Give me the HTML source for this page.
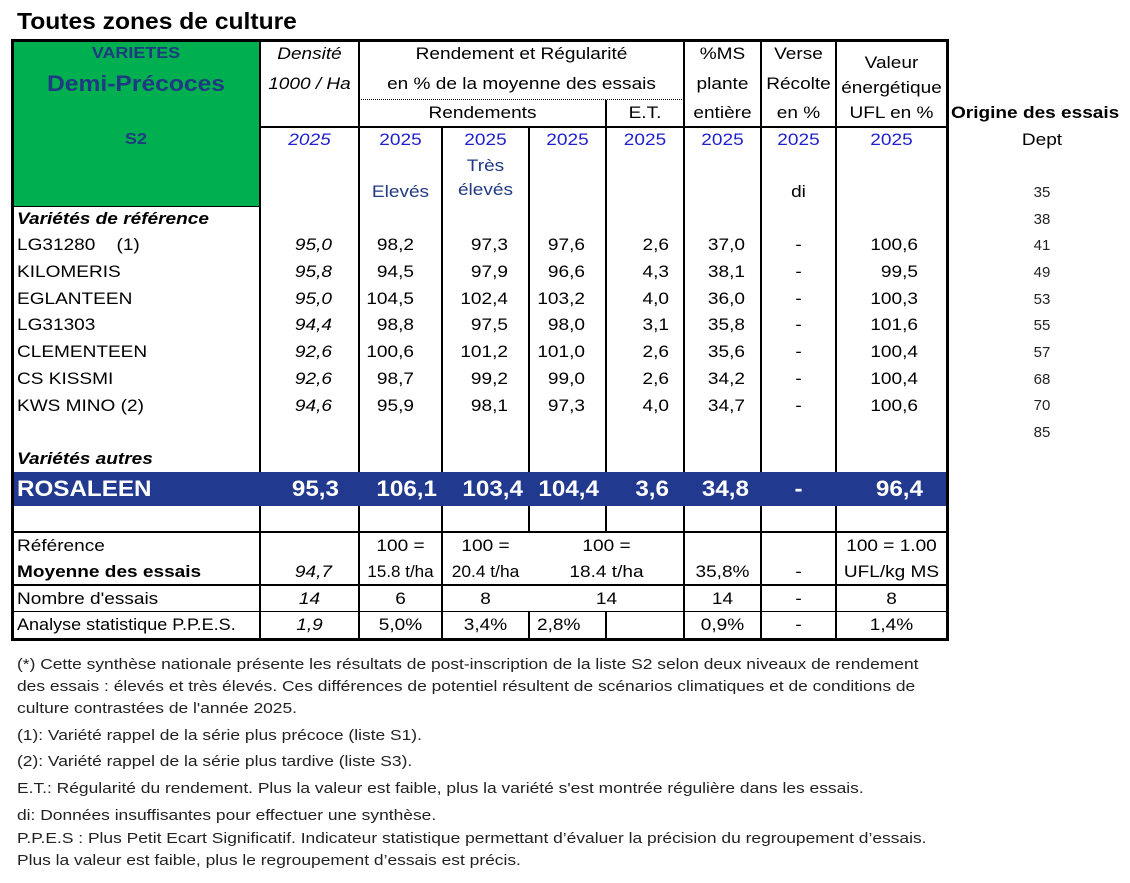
<!DOCTYPE html>
<html><head><meta charset="utf-8"><style>
body{margin:0;width:1130px;height:883px;background:#fff;position:relative;font-family:"Liberation Sans",Arial,sans-serif;overflow:hidden}
div{position:absolute;white-space:nowrap}
.t{font-size:17px;color:#000;line-height:20px;transform:scaleX(1.12);transform-origin:left center}
.c{text-align:center;transform-origin:center center}
.r{text-align:right;transform-origin:right center}
.i{font-style:italic}
.b{font-weight:bold}
.bl{color:#1f1fcc}
.nv{color:#1f3a80}
.h{background:#000;height:1px}
.v{background:#000;width:1px}
.fn{font-size:15px;color:#222;left:17px;line-height:18px;transform:scaleX(1.16);transform-origin:left center}
.dp{font-size:15px;color:#222;left:1020px;width:44px;text-align:center}
.w{color:#fff;font-weight:bold;font-size:22px;line-height:24px;top:477px;transform:scaleX(1.1);transform-origin:left center}
.w.r{transform-origin:right center}
.w.c{transform-origin:center center}
.d1{left:260px;width:72px;font-style:italic;text-align:right;transform-origin:right center}
.d2{left:359px;width:55px;text-align:right;transform-origin:right center}
.d3{left:442px;width:66px;text-align:right;transform-origin:right center}
.d4{left:529px;width:56px;text-align:right;transform-origin:right center}
.d5{left:606px;width:63px;text-align:right;transform-origin:right center}
.d6{left:684px;width:61px;text-align:right;transform-origin:right center}
.d7{left:761px;width:75px;text-align:center;transform-origin:center center}
.d8{left:836px;width:82px;text-align:right;transform-origin:right center}
</style></head><body>
<div class="b" style="left:17px;top:8px;font-size:23px;transform:scaleX(1.07);transform-origin:left center">Toutes zones de culture</div>

<div style="left:12px;top:40px;width:248px;height:166px;background:#00b050"></div>
<div style="left:12px;top:472px;width:935px;height:34px;background:#21398f"></div>
<div style="left:11px;top:39px;width:932px;height:596px;border:3px solid #000"></div>

<div class="h" style="left:260px;top:126px;width:687px;height:2px"></div>
<div class="h" style="left:12px;top:206px;width:248px"></div>
<div style="left:359px;top:99px;width:325px;border-top:1px dotted #000"></div>
<div class="h" style="left:12px;top:531px;width:935px;height:2px"></div>
<div class="h" style="left:12px;top:584px;width:935px;height:2px"></div>
<div class="h" style="left:12px;top:611px;width:935px"></div>

<div class="v" style="left:259px;top:40px;height:432px;width:2px"></div>
<div class="v" style="left:259px;top:506px;height:132px;width:2px"></div>
<div class="v" style="left:358px;top:40px;height:432px;width:2px"></div>
<div class="v" style="left:358px;top:506px;height:132px;width:2px"></div>
<div class="v" style="left:441px;top:127px;height:345px;width:2px"></div>
<div class="v" style="left:441px;top:506px;height:132px;width:2px"></div>
<div class="v" style="left:528px;top:127px;height:345px;width:2px"></div>
<div class="v" style="left:528px;top:506px;height:26px;width:2px"></div>
<div class="v" style="left:528px;top:611px;height:27px;width:2px"></div>
<div class="v" style="left:605px;top:100px;height:372px;width:2px"></div>
<div class="v" style="left:605px;top:506px;height:26px;width:2px"></div>
<div class="v" style="left:605px;top:611px;height:27px;width:2px"></div>
<div class="v" style="left:683px;top:40px;height:432px;width:2px"></div>
<div class="v" style="left:683px;top:506px;height:132px;width:2px"></div>
<div class="v" style="left:760px;top:40px;height:432px;width:2px"></div>
<div class="v" style="left:760px;top:506px;height:132px;width:2px"></div>
<div class="v" style="left:835px;top:40px;height:432px;width:2px"></div>
<div class="v" style="left:835px;top:506px;height:132px;width:2px"></div>

<div class="t c b nv" style="left:12px;width:248px;top:44px;font-size:16px">VARIETES</div>
<div class="t c b nv" style="left:12px;width:248px;top:72px;font-size:22px;line-height:24px">Demi-Précoces</div>
<div class="t c b nv" style="left:12px;width:248px;top:130px;font-size:16px">S2</div>
<div class="t c i" style="left:260px;width:99px;top:44px">Densité</div>
<div class="t c i" style="left:260px;width:99px;top:74px">1000 / Ha</div>
<div class="t c" style="left:359px;width:325px;top:44px">Rendement et Régularité</div>
<div class="t c" style="left:359px;width:325px;top:74px">en % de la moyenne des essais</div>
<div class="t c" style="left:359px;width:247px;top:103px">Rendements</div>
<div class="t c" style="left:606px;width:78px;top:103px">E.T.</div>
<div class="t c" style="left:684px;width:77px;top:44px">%MS</div>
<div class="t c" style="left:684px;width:77px;top:74px">plante</div>
<div class="t c" style="left:684px;width:77px;top:103px">entière</div>
<div class="t c" style="left:761px;width:75px;top:44px">Verse</div>
<div class="t c" style="left:761px;width:75px;top:74px">Récolte</div>
<div class="t c" style="left:761px;width:75px;top:103px">en %</div>
<div class="t c" style="left:836px;width:111px;top:53px">Valeur</div>
<div class="t c" style="left:836px;width:111px;top:78px">énergétique</div>
<div class="t c" style="left:836px;width:111px;top:103px">UFL en %</div>

<div class="t c i bl" style="left:260px;width:99px;top:130px">2025</div>
<div class="t c bl" style="left:359px;width:83px;top:130px">2025</div>
<div class="t c bl" style="left:442px;width:87px;top:130px">2025</div>
<div class="t c bl" style="left:529px;width:77px;top:130px">2025</div>
<div class="t c bl" style="left:606px;width:78px;top:130px">2025</div>
<div class="t c bl" style="left:684px;width:77px;top:130px">2025</div>
<div class="t c bl" style="left:761px;width:75px;top:130px">2025</div>
<div class="t c bl" style="left:836px;width:111px;top:130px">2025</div>
<div class="t c nv" style="left:442px;width:87px;top:156px">Très</div>
<div class="t c nv" style="left:359px;width:83px;top:182px">Elevés</div>
<div class="t c nv" style="left:442px;width:87px;top:180px">élevés</div>
<div class="t c" style="left:761px;width:75px;top:182px">di</div>

<div class="t b" style="left:951px;top:103px">Origine des essais</div>
<div class="t c" style="left:990px;width:104px;top:130px">Dept</div>
<div class="dp" style="top:184px">35</div>
<div class="dp" style="top:211px">38</div>
<div class="dp" style="top:237px">41</div>
<div class="dp" style="top:264px">49</div>
<div class="dp" style="top:291px">53</div>
<div class="dp" style="top:317px">55</div>
<div class="dp" style="top:344px">57</div>
<div class="dp" style="top:371px">68</div>
<div class="dp" style="top:397px">70</div>
<div class="dp" style="top:424px">85</div>

<div class="t b i" style="left:17px;top:209px">Variétés de référence</div>

<div class="t" style="left:17px;top:235px">LG31280&nbsp;&nbsp;&nbsp;&nbsp;(1)</div>
<div class="t d1" style="top:235px">95,0</div><div class="t d2" style="top:235px">98,2</div><div class="t d3" style="top:235px">97,3</div><div class="t d4" style="top:235px">97,6</div><div class="t d5" style="top:235px">2,6</div><div class="t d6" style="top:235px">37,0</div><div class="t d7" style="top:235px">-</div><div class="t d8" style="top:235px">100,6</div>

<div class="t" style="left:17px;top:262px">KILOMERIS</div>
<div class="t d1" style="top:262px">95,8</div><div class="t d2" style="top:262px">94,5</div><div class="t d3" style="top:262px">97,9</div><div class="t d4" style="top:262px">96,6</div><div class="t d5" style="top:262px">4,3</div><div class="t d6" style="top:262px">38,1</div><div class="t d7" style="top:262px">-</div><div class="t d8" style="top:262px">99,5</div>

<div class="t" style="left:17px;top:289px">EGLANTEEN</div>
<div class="t d1" style="top:289px">95,0</div><div class="t d2" style="top:289px">104,5</div><div class="t d3" style="top:289px">102,4</div><div class="t d4" style="top:289px">103,2</div><div class="t d5" style="top:289px">4,0</div><div class="t d6" style="top:289px">36,0</div><div class="t d7" style="top:289px">-</div><div class="t d8" style="top:289px">100,3</div>

<div class="t" style="left:17px;top:315px">LG31303</div>
<div class="t d1" style="top:315px">94,4</div><div class="t d2" style="top:315px">98,8</div><div class="t d3" style="top:315px">97,5</div><div class="t d4" style="top:315px">98,0</div><div class="t d5" style="top:315px">3,1</div><div class="t d6" style="top:315px">35,8</div><div class="t d7" style="top:315px">-</div><div class="t d8" style="top:315px">101,6</div>

<div class="t" style="left:17px;top:342px">CLEMENTEEN</div>
<div class="t d1" style="top:342px">92,6</div><div class="t d2" style="top:342px">100,6</div><div class="t d3" style="top:342px">101,2</div><div class="t d4" style="top:342px">101,0</div><div class="t d5" style="top:342px">2,6</div><div class="t d6" style="top:342px">35,6</div><div class="t d7" style="top:342px">-</div><div class="t d8" style="top:342px">100,4</div>

<div class="t" style="left:17px;top:369px">CS KISSMI</div>
<div class="t d1" style="top:369px">92,6</div><div class="t d2" style="top:369px">98,7</div><div class="t d3" style="top:369px">99,2</div><div class="t d4" style="top:369px">99,0</div><div class="t d5" style="top:369px">2,6</div><div class="t d6" style="top:369px">34,2</div><div class="t d7" style="top:369px">-</div><div class="t d8" style="top:369px">100,4</div>

<div class="t" style="left:17px;top:396px">KWS MINO (2)</div>
<div class="t d1" style="top:396px">94,6</div><div class="t d2" style="top:396px">95,9</div><div class="t d3" style="top:396px">98,1</div><div class="t d4" style="top:396px">97,3</div><div class="t d5" style="top:396px">4,0</div><div class="t d6" style="top:396px">34,7</div><div class="t d7" style="top:396px">-</div><div class="t d8" style="top:396px">100,6</div>

<div class="t b i" style="left:17px;top:449px">Variétés autres</div>

<div class="w" style="left:17px">ROSALEEN</div>
<div class="w r" style="left:260px;width:79px">95,3</div>
<div class="w r" style="left:359px;width:78px">106,1</div>
<div class="w r" style="left:442px;width:81px">103,4</div>
<div class="w r" style="left:529px;width:70px">104,4</div>
<div class="w r" style="left:606px;width:63px">3,6</div>
<div class="w r" style="left:684px;width:65px">34,8</div>
<div class="w c" style="left:761px;width:75px">-</div>
<div class="w r" style="left:836px;width:87px">96,4</div>

<div class="t" style="left:17px;top:536px">Référence</div>
<div class="t b" style="left:17px;top:562px">Moyenne des essais</div>
<div class="t i r" style="left:260px;width:72px;top:562px">94,7</div>
<div class="t c" style="left:359px;width:83px;top:536px">100 =</div>
<div class="t c" style="left:359px;width:83px;top:562px;transform:scaleX(1)">15.8 t/ha</div>
<div class="t c" style="left:442px;width:87px;top:536px">100 =</div>
<div class="t c" style="left:442px;width:87px;top:562px;transform:scaleX(1.02)">20.4 t/ha</div>
<div class="t c" style="left:529px;width:155px;top:536px">100 =</div>
<div class="t c" style="left:529px;width:155px;top:562px">18.4 t/ha</div>
<div class="t c" style="left:684px;width:77px;top:562px">35,8%</div>
<div class="t c" style="left:761px;width:75px;top:562px">-</div>
<div class="t c" style="left:836px;width:111px;top:536px">100 = 1.00</div>
<div class="t c" style="left:836px;width:111px;top:562px">UFL/kg MS</div>

<div class="t" style="left:17px;top:589px">Nombre d'essais</div>
<div class="t c i" style="left:260px;width:99px;top:589px">14</div>
<div class="t c" style="left:359px;width:83px;top:589px">6</div>
<div class="t c" style="left:442px;width:87px;top:589px">8</div>
<div class="t c" style="left:529px;width:155px;top:589px">14</div>
<div class="t c" style="left:684px;width:77px;top:589px">14</div>
<div class="t c" style="left:761px;width:75px;top:589px">-</div>
<div class="t c" style="left:836px;width:111px;top:589px">8</div>

<div class="t" style="left:17px;top:615px;transform:scaleX(1.06)">Analyse statistique P.P.E.S.</div>
<div class="t c i" style="left:260px;width:99px;top:615px">1,9</div>
<div class="t c" style="left:359px;width:83px;top:615px">5,0%</div>
<div class="t c" style="left:442px;width:87px;top:615px">3,4%</div>
<div class="t" style="left:537px;top:615px">2,8%</div>
<div class="t c" style="left:684px;width:77px;top:615px">0,9%</div>
<div class="t c" style="left:761px;width:75px;top:615px">-</div>
<div class="t c" style="left:836px;width:111px;top:615px">1,4%</div>

<div class="fn" style="top:656px">(*) Cette synthèse nationale présente les résultats de post-inscription de la liste S2 selon deux niveaux de rendement</div>
<div class="fn" style="top:678px">des essais : élevés et très élevés. Ces différences de potentiel résultent de scénarios climatiques et de conditions de</div>
<div class="fn" style="top:700px">culture contrastées de l'année 2025.</div>
<div class="fn" style="top:727px">(1): Variété rappel de la série plus précoce (liste S1).</div>
<div class="fn" style="top:753px">(2): Variété rappel de la série plus tardive (liste S3).</div>
<div class="fn" style="top:780px">E.T.: Régularité du rendement. Plus la valeur est faible, plus la variété s'est montrée régulière dans les essais.</div>
<div class="fn" style="top:807px">di: Données insuffisantes pour effectuer une synthèse.</div>
<div class="fn" style="top:830px">P.P.E.S : Plus Petit Ecart Significatif. Indicateur statistique permettant d’évaluer la précision du regroupement d’essais.</div>
<div class="fn" style="top:852px">Plus la valeur est faible, plus le regroupement d’essais est précis.</div>
</body></html>
